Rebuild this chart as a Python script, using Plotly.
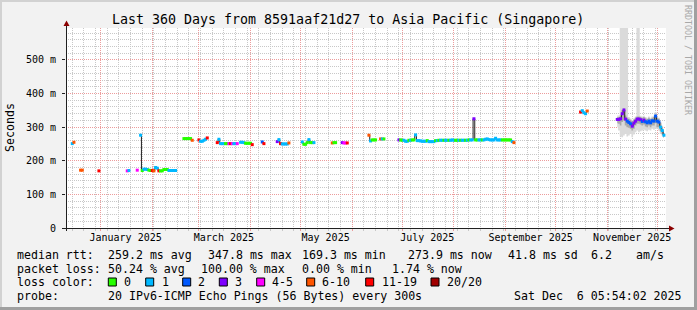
import plotly.graph_objects as go
import pandas as pd

# ---------------- data ----------------
title_text = "Last 360 Days from 8591aaf21d27 to Asia Pacific (Singapore)"
x_start = "2024-12-11 05:54:02"
x_end = "2025-12-06 05:54:02"
month_label_dates = ["2025-01-16", "2025-03-16", "2025-05-16", "2025-07-16", "2025-09-16", "2025-11-16"]
month_labels = ["January 2025", "March 2025", "May 2025", "July 2025", "September 2025", "November 2025"]
y_tick_values = [0, 100, 200, 300, 400, 500]
y_tick_labels = ["0", "100 m", "200 m", "300 m", "400 m", "500 m"]
y_max = 595

# daily median RTT (ms) and lost pings (of 20) for each run of known data
seg_start = ["2024-12-15", "2024-12-20", "2024-12-31", "2025-01-17", "2025-01-23", "2025-01-25",
             "2025-02-20", "2025-03-01", "2025-03-12", "2025-03-26", "2025-04-08", "2025-04-17",
             "2025-05-02", "2025-05-20", "2025-05-26", "2025-06-11", "2025-06-18", "2025-06-29",
             "2025-10-16", "2025-11-07"]
seg_median = [
    [251, 255],
    [172, 172],
    [170],
    [170, 171],
    [172],
    [276, 171, 175, 175, 174, 172, 171, 171, 170, 180, 178, 170, 170, 170, 174, 174, 174, 171, 171, 171, 171, 171],
    [266, 266, 266, 266, 266, 261],
    [262, 258, 258, 261, 264, 268],
    [254, 264, 251, 251, 251, 251, 251, 251, 251, 251, 251, 251, 251],
    [255, 255, 254, 252, 252, 252, 252, 248],
    [256, 251],
    [257, 263, 251, 250, 250, 250, 250, 253],
    [256, 249, 249, 254, 263, 254, 254, 254],
    [253, 254, 254],
    [254, 253, 253, 253],
    [276, 259, 262, 262, 262],
    [265, 265, 265],
    [262, 262, 261, 261, 258, 258, 261, 261, 262, 262, 277, 260, 260, 259, 258, 258, 258, 260, 257, 257,
     257, 257, 260, 260, 261, 261, 261, 261, 261, 261, 261, 261, 262, 261, 261, 261, 261, 261, 261, 261,
     261, 261, 262, 262, 262, 325, 262, 262, 262, 262, 262, 262, 264, 265, 263, 262, 262, 262, 267, 262,
     262, 262, 262, 262, 262, 262, 262, 262, 257, 254],
    [345, 349, 343, 340, 348],
    [323, 323, 325, 340, 351, 324, 318, 314, 310, 303, 312, 318, 324, 324, 322, 317, 321, 316, 313, 318,
     313, 319, 318, 333, 318, 315, 300, 290, 276],
]
seg_loss = [
    [1, 8],
    [8, 8],
    [15],
    [5, 1],
    [5],
    [1, 0, 1, 1, 1, 0, 0, 15, 8, 1, 1, 15, 0, 0, 0, 0, 0, 1, 1, 1, 1, 1],
    [0, 0, 0, 0, 0, 8],
    [15, 1, 1, 1, 1, 15],
    [15, 1, 1, 1, 1, 0, 0, 5, 15, 5, 1, 1, 5],
    [1, 1, 1, 0, 0, 0, 0, 15],
    [2, 15],
    [3, 1, 15, 1, 1, 1, 1, 8],
    [1, 0, 0, 0, 1, 0, 0, 1],
    [8, 0, 0],
    [3, 5, 5, 15],
    [8, 1, 0, 0, 0],
    [8, 1, 0],
    [3, 0, 0, 1, 1, 1, 0, 1, 0, 0, 1, 1, 1, 1, 1, 1, 1, 0, 1, 1,
     1, 1, 0, 1, 0, 1, 1, 0, 1, 1, 0, 1, 1, 1, 0, 0, 1, 0, 1, 1,
     0, 1, 0, 1, 1, 3, 0, 0, 1, 1, 0, 1, 1, 1, 1, 1, 1, 1, 1, 1,
     1, 1, 0, 0, 0, 0, 0, 0, 1, 8],
    [15, 1, 1, 1, 8],
    [3, 3, 3, 3, 3, 3, 2, 2, 2, 3, 3, 3, 3, 3, 3, 2, 3, 2, 2, 2,
     2, 2, 2, 2, 2, 2, 1, 1, 1],
]

# smoke (spread of the 20 pings) for the November run
smoke_start = "2025-11-07"
smoke_lo = [300, 290, 272, 270, 275, 280, 272, 275, 280, 270, 278, 285, 290, 285, 288, 290, 292, 290, 288, 292,
            290, 295, 292, 295, 295, 290, 280, 275, 268]
smoke_hi = [335, 335, 600, 600, 600, 600, 600, 330, 326, 322, 326, 332, 600, 600, 334, 332, 334, 330, 328, 332,
            328, 332, 334, 345, 332, 328, 316, 304, 288]
smoke_in_lo = [312, 310, 305, 315, 320, 305, 300, 298, 295, 290, 295, 305, 310, 310, 308, 305, 308, 302, 300, 305,
               300, 305, 305, 312, 300, 300, 288, 280, 270]
smoke_in_hi = [330, 330, 335, 350, 356, 335, 328, 325, 322, 318, 322, 328, 332, 332, 330, 328, 330, 326, 324, 328,
               324, 328, 330, 340, 328, 325, 312, 300, 284]

loss_upper = [0, 1, 2, 3, 5, 10, 19, 20]
loss_labels = ["0", "1", "2", "3", "4-5", "6-10", "11-19", "20/20"]
loss_colors = ["#26ff00", "#00b8ff", "#0059ff", "#7e00ff", "#ff00ff", "#ff5500", "#ff0000", "#a10000"]

legend_rows = [
    ["median rtt:", "259.2 ms avg", "347.8 ms max", "169.3 ms min", "273.9 ms now", "41.8 ms sd", "6.2", "am/s"],
    ["packet loss:", "50.24 % avg", "100.00 % max", "0.00 % min", "1.74 % now"],
    ["loss color:"],
    ["probe:", "20 IPv6-ICMP Echo Pings (56 Bytes) every 300s", "Sat Dec  6 05:54:02 2025"],
]
side_text = "RRDTOOL / TOBI OETIKER"
y_title = "Seconds"

# ---------------- layout constants (pixels) ----------------
W, H = 697, 310
L, R, T, B = 66, 31, 28, 82
PW, PH = W - L - R, H - T - B
FONT = "DejaVu Sans Mono"
GRID = "#c8c8c8"
MGRID = "#ec9c9c"
AXIS = "#202020"
ARROW = "#8b0000"

row_y = [254.5, 268.5, 282, 296]
row_x = [[16, 107.3, 207.3, 300.7, 407.3, 506.7, 590, 635],
         [16, 107.3, 200, 300.7, 391],
         [16],
         [16, 107.3, 513.3]]
swatch_x = [108.3, 145.7, 182.7, 219.3, 256.7, 306.7, 365.7, 431]
swatch_label_x = [123.3, 160.7, 197.3, 234.3, 271, 321, 380.7, 445.7]


def px(x):
    return (x - L) / PW


def py(y):
    return (T + PH - y) / PH


def loss_color(n):
    for up, c in zip(loss_upper, loss_colors):
        if n <= up:
            return c
    return loss_colors[-1]


# ---------------- build traces ----------------
line_x, line_y = [], []
mk_x, mk_y, mk_c = [], [], []
for start, med, los in zip(seg_start, seg_median, seg_loss):
    days = pd.date_range(start, periods=len(med), freq="D").strftime("%Y-%m-%d").tolist()
    line_x += days + [None]
    line_y += med + [None]
    mk_x += days
    mk_y += med
    mk_c += [loss_color(n) for n in los]

smoke_days = pd.date_range(smoke_start, periods=len(smoke_lo), freq="D").strftime("%Y-%m-%d").tolist()

fig = go.Figure()
for lo, hi, col in [(smoke_lo, smoke_hi, "#dadada"), (smoke_in_lo, smoke_in_hi, "#a9a9a9")]:
    fig.add_trace(go.Scatter(x=smoke_days, y=lo, mode="lines", line=dict(width=0, shape="hvh"),
                             hoverinfo="skip", showlegend=False))
    fig.add_trace(go.Scatter(x=smoke_days, y=[min(v, y_max) for v in hi], mode="lines",
                             line=dict(width=0, shape="hvh"), fill="tonexty", fillcolor=col,
                             hoverinfo="skip", showlegend=False))

fig.add_trace(go.Scatter(x=line_x, y=line_y, mode="lines",
                         line=dict(color=AXIS, width=1, shape="hvh"),
                         connectgaps=False, hoverinfo="skip", showlegend=False))
fig.add_trace(go.Scatter(x=mk_x, y=mk_y, mode="markers",
                         marker=dict(symbol="square", size=3, color=mk_c, line=dict(width=0)),
                         hoverinfo="skip", showlegend=False))
# carrier trace for the label axis
fig.add_trace(go.Scatter(x=[month_label_dates[0]], y=[None], xaxis="x2", yaxis="y",
                         mode="lines", hoverinfo="skip", showlegend=False))

# ---------------- layout ----------------
fig.update_layout(
    width=W, height=H,
    margin=dict(l=L, r=R, t=T, b=B, pad=0),
    paper_bgcolor="#f2f2f2", plot_bgcolor="#ffffff",
    showlegend=False,
    font=dict(family=FONT, size=10, color="#000000"),
    xaxis=dict(type="date", range=[x_start, x_end], tick0="2025-01-01", dtick="M1",
               showgrid=True, gridcolor=MGRID, griddash="1px,1px", gridwidth=1,
               ticks="outside", ticklen=2, tickcolor=MGRID, showticklabels=False,
               showline=False, zeroline=False, fixedrange=True,
               minor=dict(dtick=7 * 86400000, tick0="2024-12-15", showgrid=True, gridcolor=GRID,
                          griddash="1px,1px", gridwidth=1, ticks="outside", ticklen=2, tickcolor=GRID)),
    xaxis2=dict(type="date", overlaying="x", anchor="y", side="bottom", range=[x_start, x_end],
                tickmode="array", tickvals=month_label_dates, ticktext=month_labels,
                showgrid=False, ticks="", showline=False, zeroline=False,
                tickfont=dict(family=FONT, size=10, color="#000000"), ticklabelstandoff=2),
    yaxis=dict(range=[0, y_max], tickmode="array", tickvals=y_tick_values, ticktext=y_tick_labels,
               showgrid=True, gridcolor=MGRID, griddash="1px,1px", gridwidth=1,
               ticks="outside", ticklen=3, tickcolor=AXIS, showline=False, zeroline=False,
               tickfont=dict(family=FONT, size=10, color="#000000"), ticklabelstandoff=4,
               minor=dict(dtick=20, tick0=0, showgrid=True, gridcolor=GRID, griddash="1px,1px", gridwidth=1)),
)

shapes = []
# 3D border of the canvas
shapes.append(dict(type="rect", xref="paper", yref="paper", x0=px(0), x1=px(2), y0=py(H), y1=py(0),
                   fillcolor="#d2d2d2", line=dict(width=0), layer="below"))
shapes.append(dict(type="rect", xref="paper", yref="paper", x0=px(0), x1=px(W), y0=py(2), y1=py(0),
                   fillcolor="#d2d2d2", line=dict(width=0), layer="below"))
shapes.append(dict(type="rect", xref="paper", yref="paper", x0=px(W - 3), x1=px(W), y0=py(H), y1=py(0),
                   fillcolor="#a0a0a0", line=dict(width=0), layer="below"))
shapes.append(dict(type="rect", xref="paper", yref="paper", x0=px(0), x1=px(W), y0=py(H), y1=py(H - 3),
                   fillcolor="#a0a0a0", line=dict(width=0), layer="below"))
# axes with arrows
shapes.append(dict(type="line", xref="paper", yref="paper", x0=px(63), x1=px(669), y0=py(228.5), y1=py(228.5),
                   line=dict(color=AXIS, width=1), layer="above"))
shapes.append(dict(type="line", xref="paper", yref="paper", x0=px(66.5), x1=px(66.5), y0=py(231), y1=py(25),
                   line=dict(color=AXIS, width=1), layer="above"))
shapes.append(dict(type="path", xref="paper", yref="paper",
                   path=f"M {px(669)} {py(225.5)} L {px(674.5)} {py(228.5)} L {px(669)} {py(231.5)} Z",
                   fillcolor=ARROW, line=dict(width=0), layer="above"))
shapes.append(dict(type="path", xref="paper", yref="paper",
                   path=f"M {px(63.5)} {py(26)} L {px(66.5)} {py(20.5)} L {px(69.5)} {py(26)} Z",
                   fillcolor=ARROW, line=dict(width=0), layer="above"))
# loss colour swatches
for sx, col in zip(swatch_x, loss_colors):
    shapes.append(dict(type="rect", xref="paper", yref="paper", x0=px(sx), x1=px(sx + 8),
                       y0=py(row_y[2] + 4), y1=py(row_y[2] - 4),
                       fillcolor=col, line=dict(color="#000000", width=1)))
fig.update_layout(shapes=shapes)

ann = []
ann.append(dict(text=title_text, xref="paper", yref="paper", x=px(347.5), y=py(19),
                xanchor="center", yanchor="middle", showarrow=False, borderpad=0,
                font=dict(family=FONT, size=13.3, color="#000000")))
ann.append(dict(text=y_title, xref="paper", yref="paper", x=px(10), y=py(128), textangle=-90,
                xanchor="center", yanchor="middle", showarrow=False, borderpad=0,
                font=dict(family=FONT, size=11.6, color="#000000")))
ann.append(dict(text=side_text, xref="paper", yref="paper", x=px(688), y=py(60), textangle=90,
                xanchor="center", yanchor="middle", showarrow=False, borderpad=0,
                font=dict(family=FONT, size=8.3, color="#a8a8a8")))
for texts, xs_, yv in zip(legend_rows, row_x, row_y):
    for t, xv in zip(texts, xs_):
        ann.append(dict(text=t, xref="paper", yref="paper", x=px(xv), y=py(yv),
                        xanchor="left", yanchor="middle", showarrow=False, borderpad=0,
                        font=dict(family=FONT, size=11.6, color="#000000")))
for t, xv in zip(loss_labels, swatch_label_x):
    ann.append(dict(text=t, xref="paper", yref="paper", x=px(xv), y=py(row_y[2]),
                    xanchor="left", yanchor="middle", showarrow=False, borderpad=0,
                    font=dict(family=FONT, size=11.6, color="#000000")))
fig.update_layout(annotations=ann)

fig.write_html("out.html")
